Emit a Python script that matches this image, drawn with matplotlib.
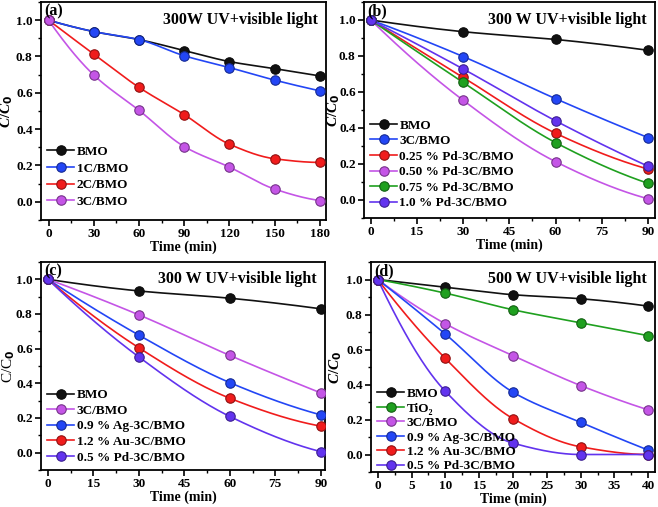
import numpy as np
import matplotlib
matplotlib.use("Agg")
import matplotlib.pyplot as plt
from matplotlib.ticker import MultipleLocator, AutoMinorLocator

plt.rcParams['font.family'] = ['Liberation Serif', 'DejaVu Serif']
plt.rcParams['font.weight'] = 'bold'
plt.rcParams['mathtext.fontset'] = 'custom'
plt.rcParams['mathtext.rm'] = 'Liberation Serif:bold'
plt.rcParams['mathtext.it'] = 'Liberation Serif:italic:bold'

# ---------------- data ----------------
# panel (a)
time_a = [0, 30, 60, 90, 120, 150, 180]
a_bmo = [1.0, 0.937, 0.893, 0.833, 0.772, 0.733, 0.693]
a_1c = [1.0, 0.937, 0.893, 0.804, 0.739, 0.670, 0.611]
a_2c = [1.0, 0.813, 0.630, 0.480, 0.317, 0.237, 0.217]
a_3c = [1.0, 0.698, 0.504, 0.304, 0.191, 0.070, 0.007]
labels_a = ['BMO', '1C/BMO', '2C/BMO', '3C/BMO']

# panel (b)
time_b = [0, 30, 60, 90]
b_bmo = [1.0, 0.935, 0.892, 0.832]
b_3c = [1.0, 0.797, 0.563, 0.347]
b_pd025 = [1.0, 0.681, 0.371, 0.172]
b_pd050 = [1.0, 0.554, 0.213, 0.007]
b_pd075 = [1.0, 0.653, 0.319, 0.093]
b_pd100 = [1.0, 0.728, 0.440, 0.188]
labels_b = ['BMO', '3C/BMO', '0.25 % Pd-3C/BMO', '0.50 % Pd-3C/BMO',
            '0.75 % Pd-3C/BMO', '1.0 % Pd-3C/BMO']

# panel (c)
time_c = [0, 30, 60, 90]
c_bmo = [1.0, 0.933, 0.891, 0.830]
c_3c = [1.0, 0.795, 0.561, 0.345]
c_ag = [1.0, 0.678, 0.404, 0.218]
c_au = [1.0, 0.605, 0.314, 0.153]
c_pd = [1.0, 0.552, 0.209, 0.006]
labels_c = ['BMO', '3C/BMO', '0.9 % Ag-3C/BMO', '1.2 % Au-3C/BMO', '0.5 % Pd-3C/BMO']

# panel (d)
time_d = [0, 10, 20, 30, 40]
d_bmo = [1.0, 0.956, 0.913, 0.890, 0.848]
d_tio2 = [1.0, 0.922, 0.827, 0.753, 0.679]
d_3c = [1.0, 0.747, 0.565, 0.394, 0.255]
d_ag = [1.0, 0.688, 0.356, 0.184, 0.025]
d_au = [1.0, 0.549, 0.205, 0.044, 0.0]
d_pd = [1.0, 0.361, 0.065, 0.0, 0.0]
labels_d = ['BMO', 'TiO₂', '3C/BMO', '0.9 % Ag-3C/BMO', '1.2 % Au-3C/BMO', '0.5 % Pd-3C/BMO']

BLACK = '#111111'
BLUE = '#2346f5'
RED = '#f01c1c'
VIOLET = '#c455e6'
GREEN = '#1fa01f'
PURPLE = '#6233ee'


def pchip_curve(x, y, n=200):
    x = np.asarray(x, float)
    y = np.asarray(y, float)
    h = np.diff(x)
    delta = np.diff(y) / h
    m = len(x)
    d = np.zeros(m)
    for k in range(1, m - 1):
        if delta[k - 1] * delta[k] > 0:
            w1 = 2 * h[k] + h[k - 1]
            w2 = h[k] + 2 * h[k - 1]
            d[k] = (w1 + w2) / (w1 / delta[k - 1] + w2 / delta[k])

    def end(h0, h1, d0, d1):
        v = ((2 * h0 + h1) * d0 - h0 * d1) / (h0 + h1)
        if np.sign(v) != np.sign(d0):
            v = 0.0
        elif np.sign(d0) != np.sign(d1) and abs(v) > abs(3 * d0):
            v = 3 * d0
        return v
    d[0] = end(h[0], h[1], delta[0], delta[1])
    d[-1] = end(h[-1], h[-2], delta[-1], delta[-2])
    xs = np.linspace(x[0], x[-1], n)
    idx = np.clip(np.searchsorted(x, xs) - 1, 0, m - 2)
    t = (xs - x[idx]) / h[idx]
    h00 = 2 * t**3 - 3 * t**2 + 1
    h10 = t**3 - 2 * t**2 + t
    h01 = -2 * t**3 + 3 * t**2
    h11 = t**3 - t**2
    ys = h00 * y[idx] + h10 * h[idx] * d[idx] + h01 * y[idx + 1] + h11 * h[idx] * d[idx + 1]
    return xs, ys


def darker(c, f=0.6):
    rgb = np.array(matplotlib.colors.to_rgb(c))
    return tuple(rgb * f)


def panel(ax, x, series, colors, labels, xlim, xmajor, title, tag, ylabel,
          legend_y, spacing, ylab_x):
    handles = []
    for ys, col, lab in zip(series, colors, labels):
        xs, ss = pchip_curve(x, ys)
        ax.plot(xs, ss, color=col, lw=1.2, zorder=2)
        ax.plot(x, ys, 'o', ms=6.8, mfc=col, mec=darker(col), mew=0.8, zorder=3)
        h, = ax.plot([], [], '-o', color=col, lw=1.2, ms=6.8, mfc=col,
                     mec=darker(col), mew=0.8, label=lab)
        handles.append(h)
    ax.set_xlim(*xlim)
    ax.set_ylim(-0.1, 1.1)
    ax.xaxis.set_major_locator(MultipleLocator(xmajor))
    ax.xaxis.set_minor_locator(AutoMinorLocator(2))
    ax.yaxis.set_major_locator(MultipleLocator(0.2))
    ax.yaxis.set_minor_locator(AutoMinorLocator(2))
    ax.yaxis.set_major_formatter(matplotlib.ticker.FormatStrFormatter('%.1f'))
    ax.tick_params(which='major', direction='out', length=4, width=1.2, labelsize=9.5, pad=2)
    ax.tick_params(which='minor', direction='out', length=2.2, width=1.0)
    for sp in ax.spines.values():
        sp.set_linewidth(1.3)
    ax.set_xlabel('Time (min)', fontsize=10, fontweight='bold', labelpad=0)
    ax.set_ylabel(ylabel, fontsize=11)
    ax.yaxis.set_label_coords(ylab_x, 0.5)
    ax.text(0.972, 0.955, title, transform=ax.transAxes, ha='right', va='top',
            fontsize=11.5, fontweight='bold')
    ax.text(0.012, 0.995, tag, transform=ax.transAxes, ha='left', va='top',
            fontsize=11.5, fontweight='bold')
    ax.legend(handles=handles, loc='lower left', bbox_to_anchor=(-0.005, legend_y),
              frameon=False, fontsize=9.5, handlelength=2.0, handletextpad=0.2,
              labelspacing=spacing, borderaxespad=0.2)
    for t in ax.get_legend().get_texts():
        t.set_fontweight('bold')


fig = plt.figure(figsize=(6.58, 5.07), dpi=100)
W, H = 658, 507


def add_ax(l, r, t, b):
    return fig.add_axes([l / W, 1 - b / H, (r - l) / W, (b - t) / H])


ax_a = add_ax(41, 326, 2, 220)
ax_b = add_ax(364, 655, 2, 218)
ax_c = add_ax(41, 325, 262, 470)
ax_d = add_ax(371, 655, 262, 472)

CC_IT = r'$\mathit{C/C}_{\mathbf{0}}$'
panel(ax_a, time_a, [a_bmo, a_1c, a_2c, a_3c], [BLACK, BLUE, RED, VIOLET], labels_a,
      (-5, 184), 30, '300W UV+visible light', '(a)', CC_IT, 0.02, 0.33, -0.091)
panel(ax_b, time_b, [b_bmo, b_3c, b_pd025, b_pd050, b_pd075, b_pd100],
      [BLACK, BLUE, RED, VIOLET, GREEN, PURPLE], labels_b,
      (-2.2, 92.3), 15, '300 W UV+visible light', '(b)', CC_IT, 0.004, 0.25, -0.076)
panel(ax_c, time_c, [c_bmo, c_3c, c_ag, c_au, c_pd], [BLACK, VIOLET, BLUE, RED, PURPLE],
      labels_c, (-2.3, 91.4), 15, '300 W UV+visible light', '(c)', r'C/C$_{\mathbf{0}}$',
      -0.007, 0.25, -0.084)
panel(ax_d, time_d, [d_bmo, d_tio2, d_3c, d_ag, d_au, d_pd],
      [BLACK, GREEN, VIOLET, BLUE, RED, PURPLE], labels_d,
      (-1.0, 41.0), 5, '500 W UV+visible light', '(d)', CC_IT, -0.04, 0.17, -0.095)

fig.savefig('out.png', dpi=100)
